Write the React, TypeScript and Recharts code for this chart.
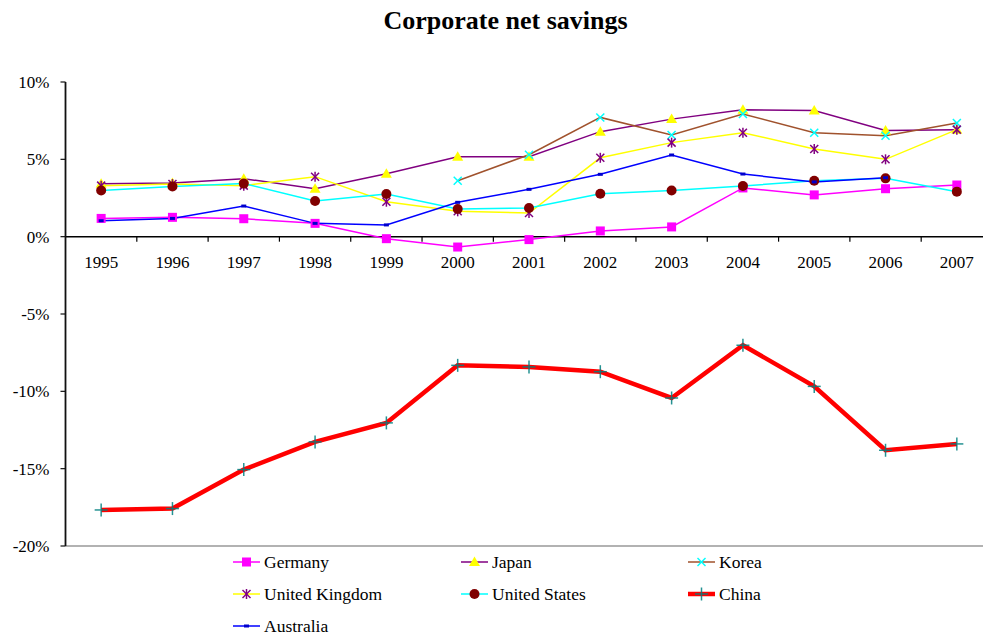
import React from 'react';
import { LineChart, Line, XAxis, YAxis, ReferenceLine } from 'recharts';

const years = ['1995', '1996', '1997', '1998', '1999', '2000', '2001', '2002', '2003', '2004', '2005', '2006', '2007'];
const germany = [1.18, 1.25, 1.16, 0.86, -0.13, -0.67, -0.19, 0.37, 0.63, 3.15, 2.7, 3.1, 3.34];
const japan = [3.42, 3.47, 3.75, 3.1, 4.07, 5.17, 5.17, 6.79, 7.6, 8.2, 8.16, 6.87, 6.92];
const korea = [null, null, null, null, null, 3.62, 5.3, 7.71, 6.57, 7.93, 6.72, 6.53, 7.35];
const unitedKingdom = [3.3, 3.4, 3.3, 3.88, 2.26, 1.64, 1.53, 5.1, 6.08, 6.72, 5.67, 5.0, 6.92];
const unitedStates = [2.99, 3.25, 3.43, 2.31, 2.76, 1.79, 1.85, 2.78, 2.99, 3.28, 3.62, 3.77, 2.91];
const china = [-17.67, -17.58, -15.06, -13.27, -12.04, -8.32, -8.42, -8.73, -10.43, -7.02, -9.68, -13.81, -13.4];
const australia = [1.03, 1.18, 1.98, 0.86, 0.76, 2.22, 3.06, 4.03, 5.28, 4.05, 3.54, 3.81, null];
const yTicks = [-20, -15, -10, -5, 0, 5, 10];
const title = 'Corporate net savings';

const data = years.map((year, i) => ({
  year,
  Germany: germany[i],
  Japan: japan[i],
  Korea: korea[i],
  'United Kingdom': unitedKingdom[i],
  'United States': unitedStates[i],
  China: china[i],
  Australia: australia[i],
}));

const FONT = 'Liberation Serif, Times New Roman, serif';
const W = 1000;
const H = 638;
const TOP = 82;
const BOTTOM = 546;
const LEFT = 65.5;
const RIGHT = 992.5;
const XAXIS_H = 30;
const Y_MIN = -20;
const Y_MAX = 10;
const ZERO_Y = TOP + ((BOTTOM - TOP) * Y_MAX) / (Y_MAX - Y_MIN);
const BAND = (RIGHT - LEFT) / years.length;

type MarkerKind = 'square' | 'triangle' | 'x' | 'asterisk' | 'circle' | 'plus' | 'smallsq';

const marker = (kind: MarkerKind, cx: number, cy: number, color: string, key?: string | number) => {
  switch (kind) {
    case 'square':
      return <rect key={key} x={cx - 4.5} y={cy - 4.5} width={9} height={9} fill={color} />;
    case 'triangle':
      return <polygon key={key} points={`${cx},${cy - 5.5} ${cx + 5.5},${cy + 4} ${cx - 5.5},${cy + 4}`} fill={color} />;
    case 'x':
      return (
        <g key={key} stroke={color} strokeWidth={1.5}>
          <line x1={cx - 4} y1={cy - 4} x2={cx + 4} y2={cy + 4} />
          <line x1={cx - 4} y1={cy + 4} x2={cx + 4} y2={cy - 4} />
        </g>
      );
    case 'asterisk':
      return (
        <g key={key} stroke={color} strokeWidth={1.5}>
          <line x1={cx - 4} y1={cy - 4} x2={cx + 4} y2={cy + 4} />
          <line x1={cx - 4} y1={cy + 4} x2={cx + 4} y2={cy - 4} />
          <line x1={cx} y1={cy - 5} x2={cx} y2={cy + 5} />
        </g>
      );
    case 'circle':
      return <circle key={key} cx={cx} cy={cy} r={5} fill={color} />;
    case 'plus':
      return (
        <g key={key} stroke={color} strokeWidth={1.5} opacity={0.85}>
          <line x1={cx - 6.5} y1={cy} x2={cx + 6.5} y2={cy} />
          <line x1={cx} y1={cy - 6.5} x2={cx} y2={cy + 6.5} />
        </g>
      );
    case 'smallsq':
      return <rect key={key} x={cx - 2.5} y={cy - 1.5} width={5} height={3} fill={color} />;
  }
  return null;
};

const series: { key: string; stroke: string; width: number; kind: MarkerKind; mcolor: string }[] = [
  { key: 'Germany', stroke: '#FF00FF', width: 1.5, kind: 'square', mcolor: '#FF00FF' },
  { key: 'Japan', stroke: '#800080', width: 1.5, kind: 'triangle', mcolor: '#FFFF00' },
  { key: 'Korea', stroke: '#A0522D', width: 1.5, kind: 'x', mcolor: '#00FFFF' },
  { key: 'United Kingdom', stroke: '#FFFF00', width: 1.5, kind: 'asterisk', mcolor: '#800080' },
  { key: 'United States', stroke: '#00FFFF', width: 1.5, kind: 'circle', mcolor: '#800000' },
  { key: 'China', stroke: '#FF0000', width: 4.5, kind: 'plus', mcolor: '#008080' },
  { key: 'Australia', stroke: '#0000FF', width: 1.5, kind: 'smallsq', mcolor: '#0000CC' },
];

const legendCols = [233, 461, 688];
const legendRows = [562, 594, 626];

const renderXTick = (props: any) => {
  const { x, payload, index } = props;
  return (
    <g key={`t-${index}`}>
      <line x1={x + BAND / 2} y1={ZERO_Y} x2={x + BAND / 2} y2={ZERO_Y + 5} stroke="#000" strokeWidth={1.2} />
      <text x={x} y={ZERO_Y + 31} textAnchor="middle" style={{ fontFamily: FONT, fontSize: 17 }} fill="#000">
        {payload.value}
      </text>
    </g>
  );
};

export default function App() {
  return (
    <div style={{ position: 'relative', width: 983, height: 638, overflow: 'hidden', background: '#fff' }}>
      <style>{'body{margin:0;}'}</style>
      <div style={{ position: 'absolute', left: 0, top: 0 }}>
        <LineChart width={W} height={H} data={data} margin={{ top: TOP, right: W - RIGHT, bottom: H - BOTTOM - XAXIS_H, left: 0 }}>
          <XAxis
            dataKey="year"
            height={XAXIS_H}
            axisLine={{ stroke: '#999', strokeWidth: 1.5 }}
            tickLine={false}
            tick={renderXTick}
            interval={0}
            padding={{ left: BAND / 2, right: BAND / 2 }}
          />
          <XAxis
            xAxisId="top"
            dataKey="year"
            orientation="top"
            height={0}
            axisLine={{ stroke: '#999', strokeWidth: 1.5 }}
            tickLine={false}
            tick={false}
            padding={{ left: BAND / 2, right: BAND / 2 }}
          />
          <YAxis
            domain={[Y_MIN, Y_MAX]}
            ticks={yTicks}
            tickFormatter={(v: number) => `${v}%`}
            width={LEFT}
            axisLine={{ stroke: '#111', strokeWidth: 1.8 }}
            tickLine={{ stroke: '#111', strokeWidth: 1.2 }}
            tickSize={5}
            tickMargin={11}
            tick={{ style: { fontFamily: FONT, fontSize: 17 }, fill: '#000' }}
            allowDataOverflow
          />
          <ReferenceLine y={0} stroke="#000" strokeWidth={1.5} />
          {series.map((s) => (
            <Line
              key={s.key}
              dataKey={s.key}
              stroke={s.stroke}
              strokeWidth={s.width}
              isAnimationActive={false}
              connectNulls={false}
              dot={(p: any) => {
                if (p.cy == null || p.value == null || isNaN(p.cy)) return <g key={`${s.key}-${p.index}`} />;
                return marker(s.kind, p.cx, p.cy, s.mcolor, `${s.key}-${p.index}`) as any;
              }}
              activeDot={false}
            />
          ))}
        </LineChart>
      </div>
      <svg width={983} height={638} style={{ position: 'absolute', left: 0, top: 0, pointerEvents: 'none' }}>
        <text x={505.5} y={29} textAnchor="middle" style={{ fontFamily: FONT, fontWeight: 'bold', fontSize: 26 }} fill="#000">
          {title}
        </text>
        {series.map((s, i) => {
          const cx = legendCols[i % 3];
          const cy = legendRows[Math.floor(i / 3)];
          return (
            <g key={s.key}>
              <line x1={cx} y1={cy} x2={cx + 27} y2={cy} stroke={s.stroke} strokeWidth={s.width} />
              {marker(s.kind, cx + 13.5, cy, s.mcolor)}
              <text x={cx + 31} y={cy + 6} style={{ fontFamily: FONT, fontSize: 17.5 }} fill="#000">
                {s.key}
              </text>
            </g>
          );
        })}
      </svg>
    </div>
  );
}
